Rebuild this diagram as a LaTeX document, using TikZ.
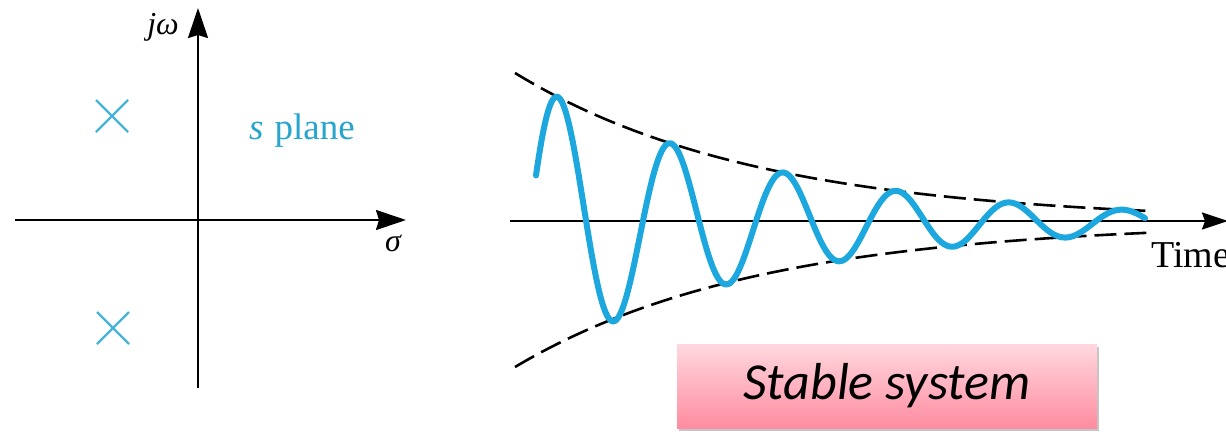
\documentclass[tikz,border=0pt]{standalone}
\usepackage{fontspec}
\setmainfont{Liberation Serif}
\newfontfamily\calibri{Carlito}
\usetikzlibrary{arrows.meta,shadows}
\definecolor{waveblue}{RGB}{28,168,222}
\definecolor{xblue}{RGB}{70,180,215}
\definecolor{sblue}{RGB}{40,165,205}
\definecolor{pinktop}{RGB}{255,216,223}
\definecolor{pinkbot}{RGB}{255,140,160}
\begin{document}
\begin{tikzpicture}[x=1pt,y=-1pt,
  axis/.style={line width=2.2pt,-{Stealth[length=30pt,width=20pt,inset=3pt]}},
  taxis/.style={line width=2.2pt,-{Stealth[length=26pt,width=17pt,inset=3pt]}},
  env/.style={line width=2.6pt,dash pattern=on 22pt off 8pt},
  wave/.style={waveblue,line width=6pt,line cap=round},
  pole/.style={xblue,line width=2.2pt},
  lbl/.style={inner sep=0pt,font=\fontsize{32}{34}\selectfont},
  stablebox/.style={minimum width=420pt,minimum height=84pt,inner sep=0pt,
    top color=pinktop,bottom color=pinkbot,
    drop shadow={shadow xshift=2pt,shadow yshift=-3pt,opacity=0.45},
    font=\calibri\itshape\fontsize{52}{56}\selectfont}]
\useasboundingbox (0,0) rectangle (1226,431);
\fill[white] (0,0) rectangle (1226,431);
% s-plane
\coordinate (hl) at (15,220);
\coordinate (hr) at (406,220);
\coordinate (vb) at (198,388);
\coordinate (vt) at (198,8);
\draw[axis] (hl) -- (hr);
\draw[axis] (vb) -- (vt);
\node[lbl] (jw) at (163,27) {\itshape jω};
\node[lbl] (sigma) at (393,243) {\itshape σ};
\node[lbl,sblue,anchor=base west,font=\fontsize{37}{40}\selectfont] (splane) at (249,139) {\itshape s\hspace{0.3em}\upshape plane};
\coordinate (p1) at (112,116);
\coordinate (p2) at (113,328);
\draw[pole] ([shift={(-16,-16)}]p1) -- ([shift={(16,16)}]p1)
            ([shift={(-16,16)}]p1) -- ([shift={(16,-16)}]p1);
\draw[pole] ([shift={(-16,-16)}]p2) -- ([shift={(16,16)}]p2)
            ([shift={(-16,16)}]p2) -- ([shift={(16,-16)}]p2);
% time response
\coordinate (tl) at (510,221);
\coordinate (tr) at (1228,221);
\draw[taxis] (tl) -- (tr);
\node[lbl,anchor=base west,font=\fontsize{38}{40}\selectfont] (time) at (1151,267) {Time};
\draw[env] plot[domain=515:1150,samples=120] (\x,{222-149*exp(-0.0041*(\x-515))});
\draw[env] plot[domain=515:1150,samples=120] (\x,{222+145*exp(-0.0041*(\x-515))});
\draw[wave] plot[domain=536:1145,samples=500,smooth] (\x,{222-149*exp(-0.0041*(\x-515))*cos(((\x-558)/113)*360)});
\node[stablebox] (stable) at (887,386) {Stable system};
\end{tikzpicture}
\end{document}
